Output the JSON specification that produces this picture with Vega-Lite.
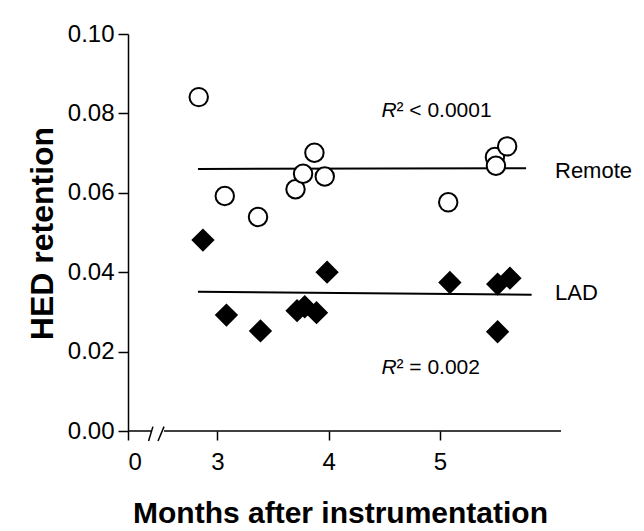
{
  "$schema": "https://vega.github.io/schema/vega-lite/v6.json",
  "width": 433,
  "height": 397,
  "autosize": {"type": "none"},
  "padding": {"left": 128, "top": 34, "right": 83, "bottom": 100},
  "background": "white",
  "config": {
    "view": {"stroke": null},
    "font": "Liberation Sans",
    "axis": {
      "domainColor": "black", "tickColor": "black", "labelColor": "black", "titleColor": "black",
      "domainWidth": 1.5, "tickWidth": 1.5, "grid": false,
      "labelFont": "Liberation Sans", "titleFont": "Liberation Sans"
    }
  },
  "datasets": {
    "points": [
      {"month": 2.832, "retention": 0.0841, "region": "Remote"},
      {"month": 3.066, "retention": 0.0592, "region": "Remote"},
      {"month": 3.365, "retention": 0.0539, "region": "Remote"},
      {"month": 3.702, "retention": 0.0609, "region": "Remote"},
      {"month": 3.770, "retention": 0.0648, "region": "Remote"},
      {"month": 3.872, "retention": 0.0701, "region": "Remote"},
      {"month": 3.965, "retention": 0.0641, "region": "Remote"},
      {"month": 5.075, "retention": 0.0576, "region": "Remote"},
      {"month": 5.495, "retention": 0.0690, "region": "Remote"},
      {"month": 5.504, "retention": 0.0668, "region": "Remote"},
      {"month": 5.605, "retention": 0.0717, "region": "Remote"},
      {"month": 2.870, "retention": 0.0481, "region": "LAD"},
      {"month": 3.081, "retention": 0.0292, "region": "LAD"},
      {"month": 3.387, "retention": 0.0252, "region": "LAD"},
      {"month": 3.716, "retention": 0.0303, "region": "LAD"},
      {"month": 3.785, "retention": 0.0313, "region": "LAD"},
      {"month": 3.891, "retention": 0.0298, "region": "LAD"},
      {"month": 3.986, "retention": 0.0400, "region": "LAD"},
      {"month": 5.090, "retention": 0.0374, "region": "LAD"},
      {"month": 5.519, "retention": 0.0370, "region": "LAD"},
      {"month": 5.630, "retention": 0.0385, "region": "LAD"},
      {"month": 5.519, "retention": 0.0250, "region": "LAD"}
    ],
    "fits": [
      {"region": "Remote", "m1": 2.825, "m2": 5.775, "r1": 0.0660, "r2": 0.0662},
      {"region": "LAD", "m1": 2.825, "m2": 5.825, "r1": 0.0351, "r2": 0.0343}
    ],
    "baseline": [
      {"m1": 2.196, "m2": 2.406},
      {"m1": 2.520, "m2": 6.089}
    ],
    "breaks": [
      {"m1": 2.381, "m2": 2.420, "r1": -0.0025, "r2": 0.0011},
      {"m1": 2.466, "m2": 2.520, "r1": -0.0025, "r2": 0.0011}
    ],
    "labels": [
      {"month": 6.035, "retention": 0.0654, "text": "Remote"},
      {"month": 6.035, "retention": 0.0347, "text": "LAD"}
    ],
    "rlabels": [
      {"month": 4.475, "retention": 0.0807, "text": "² < 0.0001"},
      {"month": 4.475, "retention": 0.0158, "text": "² = 0.002"}
    ]
  },
  "layer": [
    {
      "data": {"name": "baseline"},
      "mark": {"type": "rule", "color": "black", "strokeWidth": 1.5},
      "encoding": {
        "x": {"field": "m1", "type": "quantitative"},
        "x2": {"field": "m2"},
        "y": {"datum": 0, "type": "quantitative"}
      }
    },
    {
      "data": {"name": "breaks"},
      "mark": {"type": "rule", "color": "black", "strokeWidth": 1.5},
      "encoding": {
        "x": {"field": "m1", "type": "quantitative"},
        "x2": {"field": "m2"},
        "y": {"field": "r1", "type": "quantitative"},
        "y2": {"field": "r2"}
      }
    },
    {
      "data": {"name": "fits"},
      "mark": {"type": "rule", "color": "black", "strokeWidth": 2},
      "encoding": {
        "x": {"field": "m1", "type": "quantitative"},
        "x2": {"field": "m2"},
        "y": {"field": "r1", "type": "quantitative"},
        "y2": {"field": "r2"}
      }
    },
    {
      "data": {"name": "points"},
      "mark": {"type": "point", "filled": false, "stroke": "black", "strokeWidth": 2, "opacity": 1},
      "encoding": {
        "x": {
          "field": "month", "type": "quantitative",
          "scale": {"domain": [2.196, 6.089], "nice": false, "zero": false},
          "axis": {
            "values": [2.196, 3, 4, 5],
            "labelExpr": "datum.value < 2.5 ? '0' : format(datum.value, 'd')",
            "domain": false,
            "tickSize": 9,
            "labelFontSize": 24,
            "labelPadding": 10,
            "title": "Months after instrumentation",
            "titleFontSize": 30,
            "titleFontWeight": "bold",
            "titleX": 212,
            "titleY": 91,
            "titleBaseline": "alphabetic",
            "titleAlign": "center"
          }
        },
        "y": {
          "field": "retention", "type": "quantitative",
          "scale": {"domain": [0, 0.1], "nice": false},
          "axis": {
            "values": [0, 0.02, 0.04, 0.06, 0.08, 0.1],
            "format": ".2f",
            "tickSize": 10,
            "labelFontSize": 24,
            "labelPadding": 4,
            "title": "HED retention",
            "titleFontSize": 32,
            "titleFontWeight": "bold",
            "titleAngle": 270,
            "titleX": -76,
            "titleY": 199,
            "titleBaseline": "alphabetic",
            "titleAlign": "center"
          }
        },
        "shape": {
          "field": "region", "type": "nominal",
          "scale": {"domain": ["Remote", "LAD"], "range": ["circle", "diamond"]},
          "legend": null
        },
        "fill": {
          "field": "region", "type": "nominal",
          "scale": {"domain": ["Remote", "LAD"], "range": ["white", "black"]},
          "legend": null
        },
        "size": {
          "field": "region", "type": "nominal",
          "scale": {"domain": ["Remote", "LAD"], "range": [340, 420]},
          "legend": null
        }
      }
    },
    {
      "data": {"name": "labels"},
      "mark": {"type": "text", "align": "left", "baseline": "middle", "fontSize": 22, "color": "black", "font": "Liberation Sans"},
      "encoding": {
        "x": {"field": "month", "type": "quantitative"},
        "y": {"field": "retention", "type": "quantitative"},
        "text": {"field": "text"}
      }
    },
    {
      "data": {"name": "rlabels"},
      "mark": {"type": "text", "align": "left", "baseline": "middle", "fontSize": 21, "fontStyle": "italic", "color": "black", "font": "Liberation Sans"},
      "encoding": {
        "x": {"field": "month", "type": "quantitative"},
        "y": {"field": "retention", "type": "quantitative"},
        "text": {"value": "R"}
      }
    },
    {
      "data": {"name": "rlabels"},
      "mark": {"type": "text", "align": "left", "baseline": "middle", "fontSize": 21, "dx": 15, "color": "black", "font": "Liberation Sans"},
      "encoding": {
        "x": {"field": "month", "type": "quantitative"},
        "y": {"field": "retention", "type": "quantitative"},
        "text": {"field": "text"}
      }
    }
  ]
}
